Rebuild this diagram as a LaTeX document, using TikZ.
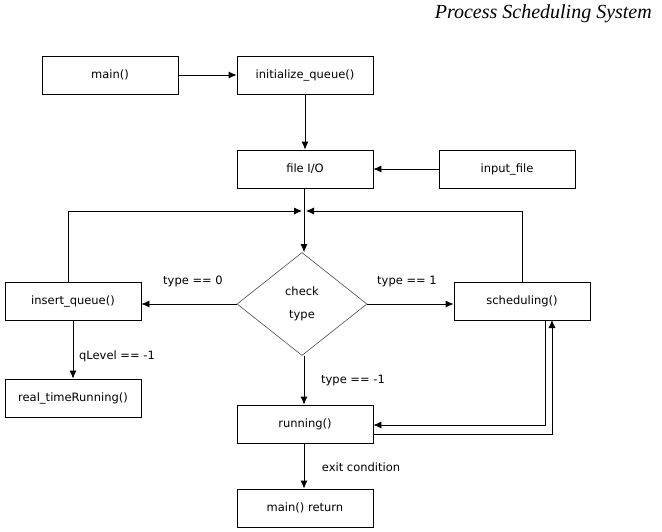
\documentclass[tikz,border=0pt]{standalone}
\usepackage{fontspec}
\setmainfont{DejaVu Sans}
\newfontfamily\titlefont{Liberation Serif}
\usetikzlibrary{shapes.geometric,arrows.meta}
\begin{document}
\begin{tikzpicture}[x=1pt,y=-1pt,
  box/.style={draw=black,line width=0.8pt,minimum width=136pt,minimum height=38pt,inner sep=0pt,font=\fontsize{11.5}{13}\selectfont},
  lbl/.style={font=\fontsize{11.5}{13}\selectfont,inner sep=0pt},
  conn/.style={draw=black,line width=0.8pt,-{Latex[length=8pt,width=7pt]}},
  plain/.style={draw=black,line width=0.8pt}]
\useasboundingbox (0,0) rectangle (662,531);
\node[font=\titlefont\itshape\fontsize{20}{22}\selectfont,anchor=east,inner sep=0pt] (title) at (652,14) {Process Scheduling System};
\node[box] (main) at (110,75) {main()};
\node[box] (init) at (305,75) {initialize\_queue()};
\node[box] (fio) at (305,169) {file I/O};
\node[box] (inp) at (507,169) {input\_file};
\node[draw=black!70,line width=0.6pt,diamond,minimum width=130pt,minimum height=103pt,inner sep=0pt,align=center,font=\fontsize{11.5}{23}\selectfont] (chk) at (302,304) {check\\type};
\node[box] (ins) at (73,301) {insert\_queue()};
\node[box] (sch) at (522,301) {scheduling()};
\node[box] (rtr) at (73,398) {real\_timeRunning()};
\node[box] (run) at (305,424) {running()};
\node[box] (ret) at (305,508) {main() return};
\coordinate (jn) at (304,211);
\coordinate (jl) at (302,211);
\coordinate (jr) at (306,211);

\draw[conn] (main) -- (init);
\draw[conn] (init) -- (fio);
\draw[conn] (inp) -- (fio);
\draw[plain] (fio.south -| jn) -- (jn);
\draw[conn] (jn) -- (jn |- chk.north);
\draw[conn] (chk.west) -- (ins.east |- chk.west);
\draw[conn] (chk.east) -- (sch.west |- chk.east);
\draw[conn] (jn |- chk.south) -- (run.north -| jn);
\draw[conn] (run.south -| jn) -- (ret.north -| jn);
\draw[conn] (ins) -- (rtr);
\draw[conn] (ins.north -| 68,0) -- (68,211) -- (jl);
\draw[conn] (sch.north) |- (jr);
\draw[conn] (545,320) -- (545,425) -- (run.east |- 0,425);
\draw[conn] (run.east |- 0,434) -- (552,434) -- (552,320);

\node[lbl] (l0) at (193,281) {type == 0};
\node[lbl] (l1) at (407,281) {type == 1};
\node[lbl] (lm) at (353,380) {type == -1};
\node[lbl] (lq) at (117,356) {qLevel == -1};
\node[lbl] (le) at (361,467) {exit condition};
\end{tikzpicture}
\end{document}
